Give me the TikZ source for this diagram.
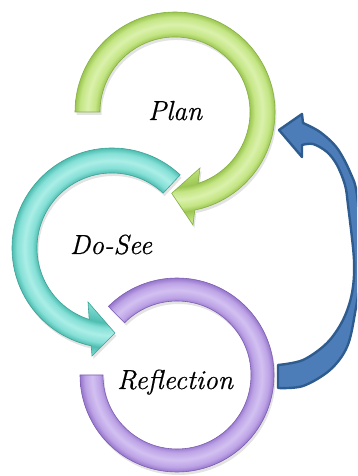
\documentclass[tikz,border=0pt]{standalone}
\usepackage{fontspec}
\newfontfamily\lblfont{Latin Modern Roman}[ItalicFeatures={FakeBold=0.5}]
\usetikzlibrary{calc}
\definecolor{gL}{HTML}{DAF1AC}\definecolor{gM}{HTML}{C4E584}\definecolor{gD}{HTML}{9CC653}\definecolor{gO}{HTML}{86B040}
\definecolor{tL}{HTML}{ABEEE7}\definecolor{tM}{HTML}{84DFD6}\definecolor{tD}{HTML}{4FBDB1}\definecolor{tO}{HTML}{3DA297}
\definecolor{pL}{HTML}{D3C1F1}\definecolor{pM}{HTML}{BDA3E6}\definecolor{pD}{HTML}{9676CB}\definecolor{pO}{HTML}{7C5DB2}
\definecolor{bF}{HTML}{4D7DB8}\definecolor{bO}{HTML}{2F5C8F}
\pgfdeclareradialshading{greenring}{\pgfpoint{0bp}{0bp}}{color(0bp)=(gM);color(12bp)=(gM);color(15bp)=(gD);color(16bp)=(gM);color(17.5bp)=(gL);color(19bp)=(gM);color(20bp)=(gD);color(22bp)=(gM);color(25bp)=(gM)}
\pgfdeclareradialshading{tealring}{\pgfpoint{0bp}{0bp}}{color(0bp)=(tM);color(12bp)=(tM);color(15bp)=(tD);color(16bp)=(tM);color(17.5bp)=(tL);color(19bp)=(tM);color(20bp)=(tD);color(22bp)=(tM);color(25bp)=(tM)}
\pgfdeclareradialshading{purplering}{\pgfpoint{0bp}{0bp}}{color(0bp)=(pM);color(12bp)=(pM);color(15bp)=(pD);color(16bp)=(pM);color(17.5bp)=(pL);color(19bp)=(pM);color(20bp)=(pD);color(22bp)=(pM);color(25bp)=(pM)}
\tikzset{
  label/.style={font=\lblfont\itshape\fontsize{27.5}{30}\selectfont, anchor=base, inner sep=0pt},
  shadowfill/.style={fill=black, opacity=0.11},
  blueband/.style={fill=bF, draw=bO, line width=2.4pt, line join=round}
}
\begin{document}
\begin{tikzpicture}[x=1pt,y=1pt]
\fill[white] (0,0) rectangle (357,476);
\useasboundingbox (0,0) rectangle (357,476);
\clip (0,0) rectangle (357,476);
\coordinate (G) at (175,364);
\coordinate (T) at (112,228);
\coordinate (R) at (177,101);
% paths
\path[save path=\ppath] ($(R)+(135:97)$) arc[start angle=135,end angle=-180,radius=97] -- ($(R)+(180:74)$) arc[start angle=-180,end angle=135,radius=74] -- cycle;
\path[save path=\tpath] ($(T)+(47:100)$) arc[start angle=47,end angle=258,radius=100] -- (92,120) -- (115,143) -- (88,174) -- ($(T)+(252.3:75)$) arc[start angle=252.3,end angle=47,radius=75] -- cycle;
\path[save path=\gpath] ($(G)+(180:100)$) arc[start angle=180,end angle=-78.6,radius=100] -- (193,251) -- (171.7,282.7) -- (200,308) -- ($(G)+(-72.1:75)$) arc[start angle=-72.1,end angle=180,radius=75] -- cycle;
% shadows
\begin{scope}[transform canvas={xshift=1.5pt,yshift=-3pt}]
\fill[shadowfill,use path=\ppath];
\fill[shadowfill,use path=\tpath];
\fill[shadowfill,use path=\gpath];
\end{scope}
% purple
\begin{scope}
\clip[use path=\ppath];
\shade[shading=purplering] (R) circle (121.25);
\end{scope}
\draw[pO,line width=0.6pt,use path=\ppath];
% teal
\begin{scope}
\clip[use path=\tpath];
\shade[shading=tealring] (T) circle (125);
\end{scope}
\draw[tO,line width=0.6pt,use path=\tpath];
% green
\begin{scope}
\clip[use path=\gpath];
\shade[shading=greenring] (G) circle (125);
\end{scope}
\draw[gO,line width=0.6pt,use path=\gpath];
% blue arrow
\path[blueband] plot[smooth,tension=0.55] coordinates {(278,111) (303,116) (327,133) (343,156) (352,183) (354,216) (348,271) (345,291) (337,311) (327,324) (313,332) (302,331)} -- (302,319) -- (279,346) -- (302,362) -- plot[smooth,tension=0.55] coordinates {(303,353) (320,344) (337,328) (350,304) (357,281) (362,216) (355,163) (347,129) (330,106) (303,90) (278,88)} -- cycle;
% labels
\node[label] (plan) at (175,356) {Plan};
\node[label] (dosee) at (111,222) {Do-See};
\node[label] (refl) at (175,87) {Reflection};
\end{tikzpicture}
\end{document}
